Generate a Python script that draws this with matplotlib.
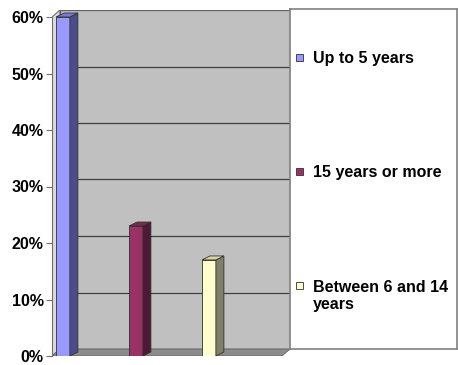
import matplotlib.pyplot as plt
from matplotlib.patches import Polygon, Rectangle

categories = ['Up to 5 years', '15 years or more', 'Between 6 and 14\nyears']
values = [60, 23, 17]
front_colors = ['#9999FF', '#993366', '#FFFFCC']
side_colors = ['#4C4C8C', '#4D1A33', '#80806A']
top_colors = ['#7A7AD6', '#7A2952', '#D6D6A8']
yticks = [0, 10, 20, 30, 40, 50, 60]

W, H = 458, 365
plt.rcParams['font.family'] = ['Liberation Sans', 'DejaVu Sans']


def px_rect(x0, y0, x1, y1):
    return [x0 / W, 1 - y1 / H, (x1 - x0) / W, (y1 - y0) / H]


fig = plt.figure(figsize=(W / 100, H / 100), dpi=100)

# depth offsets of the 3d box (data units)
ppu = 73.0          # pixels per category
ppp = 339 / 60.0    # pixels per percent
wdx, wdy = 8 / ppu, 7 / ppp
bdx, bdy = 8 / ppu, 4 / ppp
x0 = -0.15
x1 = len(values) - 0.0

ax = fig.add_axes(px_rect(52, 356 - (60 + wdy) * ppp, 52 + (x1 + wdx - x0) * ppu, 356))
ax.set_xlim(x0, x1 + wdx)
ax.set_ylim(0, 60 + wdy)
ax.patch.set_visible(False)

# walls and floor
ax.add_patch(Polygon([(x0, 0), (x0 + wdx, wdy), (x0 + wdx, 60 + wdy), (x0, 60)],
                     closed=True, fc='#DADADA', ec='#707070', lw=0.8, zorder=0))
ax.add_patch(Rectangle((x0 + wdx, wdy), x1 - x0, 60, fc='#C0C0C0', ec='#606060',
                       lw=0.9, zorder=0))
ax.add_patch(Polygon([(x0, 0), (x1, 0), (x1 + wdx, wdy), (x0 + wdx, wdy)],
                     closed=True, fc='#8C8C8C', ec='#606060', lw=0.6, zorder=1))
for t in yticks[1:-1]:
    ax.plot([x0 + wdx, x1 + wdx], [t + wdy, t + wdy], color='#404040', lw=0.9, zorder=1)

# bars
w = 0.19
xs = list(range(len(values)))
ax.bar(xs, values, width=w, color=front_colors, edgecolor='#303030', linewidth=0.6, zorder=3)
for x, v, sc, tc in zip(xs, values, side_colors, top_colors):
    r = x + w / 2
    ax.add_patch(Polygon([(r, 0), (r + bdx, bdy), (r + bdx, v + bdy), (r, v)],
                         closed=True, fc=sc, ec='#303030', lw=0.6, zorder=3))
    ax.add_patch(Polygon([(x - w / 2, v), (r, v), (r + bdx, v + bdy), (x - w / 2 + bdx, v + bdy)],
                         closed=True, fc=tc, ec='#303030', lw=0.6, zorder=3))

for s in ['top', 'right', 'bottom']:
    ax.spines[s].set_visible(False)
ax.spines['left'].set_bounds(0, 60)
ax.spines['left'].set_color('#707070')
ax.set_xticks([])
ax.set_yticks(yticks)
ax.set_yticklabels([f'{t}%' for t in yticks], fontsize=11.5, fontweight='bold')
ax.tick_params(axis='y', direction='out', length=4, color='#707070', pad=2)

# legend box
lg = fig.add_axes(px_rect(290, 9, 457, 349))
lg.set_xlim(0, 167)
lg.set_ylim(340, 0)
lg.set_xticks([])
lg.set_yticks([])
for s in lg.spines.values():
    s.set_color('#808080')
    s.set_linewidth(1.2)
entry_y = [48, 162, 276]
for lab, c, yy in zip(categories, front_colors, entry_y):
    lg.add_patch(Rectangle((6, yy - 3.5), 7, 7, fc=c, ec='#303030', lw=0.6))
    lg.text(23, yy - 5.5, lab, fontsize=11.5, fontweight='bold', va='top', ha='left',
            linespacing=1.2)

fig.savefig('out.png', dpi=100)
